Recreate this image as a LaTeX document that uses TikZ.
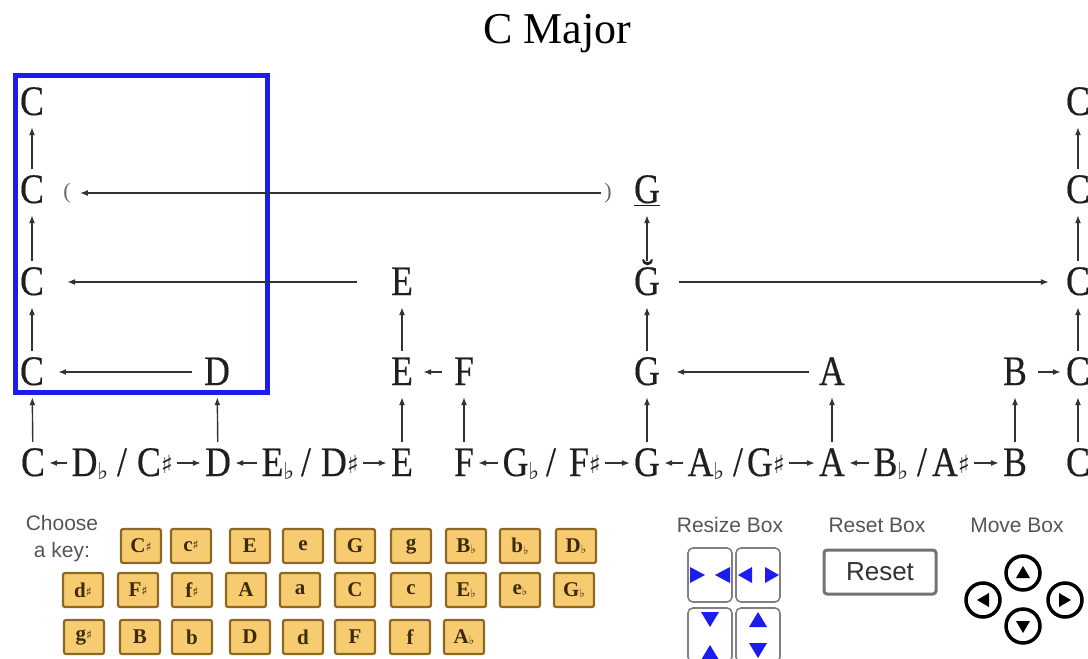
\documentclass[tikz,border=0pt]{standalone}
\usepackage{fontspec}
\setmainfont{Liberation Serif}
\newfontfamily\notefont[FakeStretch=0.85,FakeBold=0.4]{Liberation Serif}
\newfontfamily\uifont{Liberation Sans}
\newfontfamily\accfont{DejaVu Sans}
\usepackage{tikz}
\usetikzlibrary{arrows.meta}
\definecolor{boxblue}{RGB}{28,28,238}
\definecolor{keyfill}{RGB}{247,204,112}
\definecolor{keyedge}{RGB}{140,104,36}
\definecolor{keytext}{RGB}{60,42,12}
\definecolor{inkgray}{RGB}{50,50,50}
\definecolor{uigray}{RGB}{85,85,85}

\newcommand{\shrp}{\raisebox{0.05em}{\scalebox{0.6}{\accfont ♯}}}
\newcommand{\flt}{\raisebox{-0.08em}{\scalebox{0.55}{\accfont ♭}}}

\tikzset{
  note/.style={font={\notefont\fontsize{42}{44}\selectfont}, text=black!88,
    inner sep=4pt, text height=30pt, text depth=4pt, anchor=base},
  paren/.style={font={\fontsize{22}{24}\selectfont}, text=black!60, inner sep=3pt},
  link/.style={-{Latex[length=8pt,width=6pt]}, line width=1.4pt, draw=inkgray},
  up/.style={link, shorten >=4pt},
  keybtn/.style={fill=keyfill, draw=keyedge, line width=2.2pt, rounded corners=2pt,
    minimum width=40pt, minimum height=34pt, inner sep=0pt,
    font={\bfseries\fontsize{21}{22}\selectfont}, text=keytext},
  uilabel/.style={font={\uifont\fontsize{21}{23}\selectfont}, text=uigray, anchor=base},
  sizebtn/.style={draw=black!50, line width=1.6pt, rounded corners=5pt, fill=white,
    minimum width=44pt, minimum height=54pt},
  movebtn/.style={circle, draw=black, line width=3.5pt, minimum size=34pt, inner sep=0pt}
}

\begin{document}
\begin{tikzpicture}[x=1pt, y=-1pt]
  \useasboundingbox (0,0) rectangle (1088,659);
  % title
  \node[anchor=base, font={\fontsize{44}{48}\selectfont}] (title) at (557,43) {C Major};

  % selection box
  \draw[boxblue, line width=5pt] (15,75) rectangle (267,392);

  % chromatic row
  \foreach \name/\x/\lbl in {bC/33/C, bDb/90/D\flt, bCs/155/C\shrp, bD/218/D,
                             bEb/278/E\flt, bDs/340/D\shrp, bE/402/E, bF/464/F,
                             bGb/521/G\flt, bFs/585/F\shrp, bG/647/G, bAb/706/A\flt,
                             bGs/766/G\shrp, bA/832/A, bBb/891/B\flt, bAs/951/A\shrp,
                             bB/1015/B, bCC/1078/C}{
    \node[note] (\name) at (\x,476) {\lbl};
  }
  \foreach \x [count=\i] in {122,306,551,738,922}{
    \node[note] (slash\i) at (\x,476) {/};
  }
  \foreach \a/\b in {bDb/bC, bCs/bD, bEb/bD, bDs/bE, bGb/bF,
                     bFs/bG, bAb/bG, bGs/bA, bBb/bA, bAs/bB}{
    \draw[link] (\a) -- (\b);
  }

  % scale rows
  \foreach \name/\x/\lbl in {C4/32/C, D4/217/D, E4/402/E, F4/464/F,
                             G4/647/G, A4/832/A, B4/1015/B, CC4/1078/C}{
    \node[note] (\name) at (\x,385) {\lbl};
  }
  \foreach \name/\x/\lbl in {C3/32/C, E3/402/E, G3/647/\u{G}, CC3/1078/C}{
    \node[note] (\name) at (\x,295) {\lbl};
  }
  \foreach \name/\x/\lbl in {C2/32/C, G2/647/\underline{G}, CC2/1078/C}{
    \node[note] (\name) at (\x,203) {\lbl};
  }
  \foreach \name/\x in {C1/32, CC1/1078}{
    \node[note] (\name) at (\x,115) {C};
  }
  \node[paren] (lpar) at (67,193) {(};
  \node[paren] (rpar) at (608,193) {)};

  % octave stacks
  \foreach \a/\b in {bC/C4, C4/C3, C3/C2, C2/C1, bD/D4, bE/E4, E4/E3, bF/F4,
                     bG/G4, G4/G3, G3/G2, bA/A4, bB/B4,
                     bCC/CC4, CC4/CC3, CC3/CC2, CC2/CC1}{
    \draw[up] (\a) -- (\b);
  }

  % links across the rows
  \draw[link, shorten >=10pt, shorten <=8pt] (D4) -- (C4);
  \draw[link, shorten >=6pt, shorten <=8pt] (F4) -- (E4);
  \draw[link, shorten >=12pt, shorten <=6pt] (A4) -- (G4);
  \draw[link, shorten >=1pt, shorten <=7pt] (B4) -- (CC4);
  \draw[link, shorten >=19pt, shorten <=30pt] (E3) -- (C3);
  \draw[link, shorten >=13pt, shorten <=15pt] (G3) -- (CC3);
  \draw[link, shorten >=6pt] (rpar) -- (lpar);

  % key chooser
  \node[uilabel] (choose) at (62,530) {Choose};
  \node[uilabel] (akey) at (62,557) {a key:};
  \foreach \x/\lbl [count=\i] in {141/C\shrp, 191/c\shrp, 250/E, 303/e, 355/G,
                                  411/g, 466/B\flt, 520/b\flt, 576/D\flt}{
    \node[keybtn] (keyA\i) at (\x,546) {\lbl};
  }
  \foreach \x/\lbl [count=\i] in {83/d\shrp, 138/F\shrp, 192/f\shrp, 246/A, 300/a,
                                  355/C, 411/c, 466/E\flt, 520/e\flt, 574/G\flt}{
    \node[keybtn] (keyB\i) at (\x,590) {\lbl};
  }
  \foreach \x/\lbl [count=\i] in {84/g\shrp, 140/B, 192/b, 250/D, 303/d,
                                  355/F, 410/f, 464/A\flt}{
    \node[keybtn] (keyC\i) at (\x,637) {\lbl};
  }

  % resize buttons
  \node[uilabel] (resizelbl) at (730,532) {Resize Box};
  \foreach \x/\y [count=\i] in {710/575, 758/575, 710/635, 758/635}{
    \node[sizebtn] (size\i) at (\x,\y) {};
  }
  \fill[boxblue] (690,567) -- (705,575) -- (690,583) -- cycle;
  \fill[boxblue] (730,567) -- (715,575) -- (730,583) -- cycle;
  \fill[boxblue] (752,567) -- (738,575) -- (752,583) -- cycle;
  \fill[boxblue] (765,567) -- (779,575) -- (765,583) -- cycle;
  \fill[boxblue] (701,612) -- (719,612) -- (710,627) -- cycle;
  \fill[boxblue] (701,660) -- (719,660) -- (710,645) -- cycle;
  \fill[boxblue] (749,627) -- (767,627) -- (758,612) -- cycle;
  \fill[boxblue] (749,643) -- (767,643) -- (758,658) -- cycle;

  % reset button
  \node[uilabel] (resetlbl) at (877,532) {Reset Box};
  \node[draw=black!55, line width=3pt, rounded corners=3pt, fill=white,
        minimum width=112pt, minimum height=44pt, text=inkgray,
        font={\uifont\fontsize{26}{28}\selectfont}] (resetbtn) at (880,572) {Reset};

  % move buttons
  \node[uilabel] (movelbl) at (1017,532) {Move Box};
  \foreach \name/\x/\y in {mvUp/1023/573, mvLeft/983/600, mvRight/1065/600, mvDown/1023/626}{
    \node[movebtn] (\name) at (\x,\y) {};
  }
  \fill (1016,578) -- (1030,578) -- (1023,566) -- cycle;
  \fill (989,593) -- (989,607) -- (977,600) -- cycle;
  \fill (1059,593) -- (1059,607) -- (1071,600) -- cycle;
  \fill (1016,621) -- (1030,621) -- (1023,633) -- cycle;
\end{tikzpicture}
\end{document}
